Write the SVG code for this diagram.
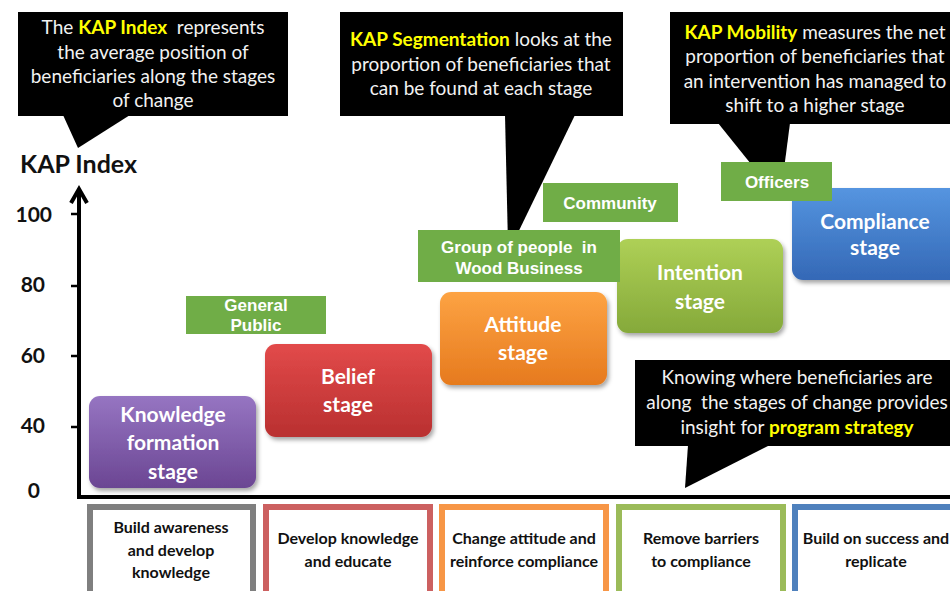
<svg xmlns="http://www.w3.org/2000/svg" width="950" height="591" viewBox="0 0 950 591">
  <defs>
    <linearGradient id="gPurple" x1="0" y1="0" x2="0" y2="1">
      <stop offset="0" stop-color="#9675c2"/>
      <stop offset="1" stop-color="#6b4693"/>
    </linearGradient>
    <linearGradient id="gRed" x1="0" y1="0" x2="0" y2="1">
      <stop offset="0" stop-color="#e24a4a"/>
      <stop offset="1" stop-color="#b93030"/>
    </linearGradient>
    <linearGradient id="gOrange" x1="0" y1="0" x2="0" y2="1">
      <stop offset="0" stop-color="#fda343"/>
      <stop offset="1" stop-color="#e67a1e"/>
    </linearGradient>
    <linearGradient id="gGreen" x1="0" y1="0" x2="0" y2="1">
      <stop offset="0" stop-color="#aed056"/>
      <stop offset="1" stop-color="#85a93a"/>
    </linearGradient>
    <linearGradient id="gBlue" x1="0" y1="0" x2="0" y2="1">
      <stop offset="0" stop-color="#5595e0"/>
      <stop offset="1" stop-color="#3468b6"/>
    </linearGradient>
    <filter id="shadow" x="-10%" y="-10%" width="130%" height="140%">
      <feDropShadow dx="2" dy="3" stdDeviation="2" flood-color="#000" flood-opacity="0.35"/>
    </filter>
  </defs>
  <style>
    .callout { fill: #000; }
    .ctext { font-family: Lato, "Liberation Sans", sans-serif; font-size: 19px; fill: #f2f2f2; text-anchor: middle; white-space: pre; }
    .hl { fill: #ffff00; font-weight: bold; }
    .stage { filter: url(#shadow); }
    .stext { font-family: Lato, "Liberation Sans", sans-serif; font-size: 21px; font-weight: bold; fill: #fff; text-anchor: middle; }
    .tag { fill: #70ad47; }
    .ttext { font-family: "Liberation Sans", Arial, sans-serif; font-size: 17px; font-weight: bold; fill: #fff; text-anchor: middle; white-space: pre; }
    .axis { stroke: #000; stroke-width: 4; fill: none; }
    .tick { stroke: #000; stroke-width: 2.5; }
    .ylab { font-family: Lato, "Liberation Sans", sans-serif; font-size: 21px; font-weight: bold; fill: #111; text-anchor: end; }
    .act { fill: #fff; stroke-width: 6; }
    .atext { font-family: Lato, "Liberation Sans", sans-serif; font-size: 16px; font-weight: bold; fill: #111; text-anchor: middle; }
  </style>

  <rect width="950" height="591" fill="#fff"/>

  <!-- axes -->
  <g id="axes">
    <text x="20" y="173" font-family="Lato, 'Liberation Sans', sans-serif" font-size="25" font-weight="bold" fill="#111">KAP Index</text>
    <line class="axis" x1="79" y1="190" x2="79" y2="499"/>
    <line class="axis" x1="77" y1="497" x2="950" y2="497"/>
    <polyline class="axis" points="71,203 79,189 87,203" stroke-linejoin="miter"/>
    <line class="tick" x1="71" y1="214" x2="79" y2="214"/>
    <line class="tick" x1="71" y1="286" x2="79" y2="286"/>
    <line class="tick" x1="71" y1="356" x2="79" y2="356"/>
    <line class="tick" x1="71" y1="427" x2="79" y2="427"/>
    <text class="ylab" x="52" y="222">100</text>
    <text class="ylab" x="45" y="292">80</text>
    <text class="ylab" x="45" y="363">60</text>
    <text class="ylab" x="45" y="433">40</text>
    <text class="ylab" x="40" y="498">0</text>
  </g>

  <!-- stage boxes -->
  <g id="stage-knowledge">
    <rect class="stage" x="89" y="396" width="167" height="92" rx="11" fill="url(#gPurple)"/>
    <text class="stext" x="173" y="422">Knowledge</text>
    <text class="stext" x="173" y="450">formation</text>
    <text class="stext" x="173" y="479">stage</text>
  </g>
  <g id="stage-belief">
    <rect class="stage" x="265" y="344" width="167" height="93" rx="11" fill="url(#gRed)"/>
    <text class="stext" x="348" y="384">Belief</text>
    <text class="stext" x="348" y="412">stage</text>
  </g>
  <g id="stage-attitude">
    <rect class="stage" x="440" y="292" width="167" height="93" rx="11" fill="url(#gOrange)"/>
    <text class="stext" x="523" y="332">Attitude</text>
    <text class="stext" x="523" y="360">stage</text>
  </g>
  <g id="stage-intention">
    <rect class="stage" x="617" y="239" width="166" height="94" rx="11" fill="url(#gGreen)"/>
    <text class="stext" x="700" y="280">Intention</text>
    <text class="stext" x="700" y="309">stage</text>
  </g>
  <g id="stage-compliance">
    <rect class="stage" x="792" y="188" width="175" height="92" rx="11" fill="url(#gBlue)"/>
    <text class="stext" x="875" y="229">Compliance</text>
    <text class="stext" x="875" y="255">stage</text>
  </g>

  <!-- callouts -->
  <g id="callout-index">
    <rect class="callout" x="18" y="12" width="270" height="104"/>
    <polygon class="callout" points="63,115 130,115 78,148"/>
    <text class="ctext" x="153" y="34">The <tspan class="hl">KAP Index</tspan>  represents</text>
    <text class="ctext" x="153" y="59">the average position of</text>
    <text class="ctext" x="153" y="83">beneficiaries along the stages</text>
    <text class="ctext" x="153" y="107">of change</text>
  </g>
  <g id="callout-segmentation">
    <rect class="callout" x="340" y="12" width="283" height="104"/>
    <polygon class="callout" points="505,115 575,115 512,245 508,245"/>
    <text class="ctext" x="481" y="46"><tspan class="hl">KAP Segmentation</tspan> looks at the</text>
    <text class="ctext" x="481" y="71">proportion of beneficiaries that</text>
    <text class="ctext" x="481" y="95">can be found at each stage</text>
  </g>
  <g id="callout-mobility">
    <rect class="callout" x="670" y="12" width="285" height="112"/>
    <polygon class="callout" points="718,123 790,123 780,200"/>
    <text class="ctext" x="815" y="39"><tspan class="hl">KAP Mobility</tspan> measures the net</text>
    <text class="ctext" x="815" y="63">proportion of beneficiaries that</text>
    <text class="ctext" x="815" y="88">an intervention has managed to</text>
    <text class="ctext" x="815" y="112">shift to a higher stage</text>
  </g>
  <g id="callout-strategy">
    <rect class="callout" x="635" y="360" width="320" height="86"/>
    <polygon class="callout" points="688,445 770,445 685,488"/>
    <text class="ctext" x="797" y="384">Knowing where beneficiaries are</text>
    <text class="ctext" x="797" y="409">along  the stages of change provides</text>
    <text class="ctext" x="797" y="434">insight for <tspan class="hl">program strategy</tspan></text>
  </g>

  <!-- audience tags -->
  <g id="tag-general-public">
    <rect class="tag" x="186" y="296" width="140" height="38"/>
    <text class="ttext" x="256" y="311">General</text>
    <text class="ttext" x="256" y="331">Public</text>
  </g>
  <g id="tag-wood-business">
    <rect class="tag" x="418" y="230" width="202" height="52"/>
    <text class="ttext" x="519" y="253">Group of people  in</text>
    <text class="ttext" x="519" y="274">Wood Business</text>
  </g>
  <g id="tag-community">
    <rect class="tag" x="543" y="183" width="135" height="39"/>
    <text class="ttext" x="610" y="209">Community</text>
  </g>
  <g id="tag-officers">
    <rect class="tag" x="721" y="162" width="111" height="39"/>
    <text class="ttext" x="777" y="188">Officers</text>
  </g>

  <!-- actions row -->
  <g id="action-awareness">
    <rect class="act" x="90" y="507" width="163" height="90" stroke="#7f7f7f"/>
    <text class="atext" x="171" y="533">Build awareness</text>
    <text class="atext" x="171" y="556">and develop</text>
    <text class="atext" x="171" y="578">knowledge</text>
  </g>
  <g id="action-educate">
    <rect class="act" x="266" y="507" width="164" height="90" stroke="#cc6060"/>
    <text class="atext" x="348" y="544">Develop knowledge</text>
    <text class="atext" x="348" y="567">and educate</text>
  </g>
  <g id="action-attitude">
    <rect class="act" x="442" y="507" width="164" height="90" stroke="#f79646"/>
    <text class="atext" x="524" y="544">Change attitude and</text>
    <text class="atext" x="524" y="567">reinforce compliance</text>
  </g>
  <g id="action-barriers">
    <rect class="act" x="619" y="507" width="164" height="90" stroke="#9bbb59"/>
    <text class="atext" x="701" y="544">Remove barriers</text>
    <text class="atext" x="701" y="567">to compliance</text>
  </g>
  <g id="action-replicate">
    <rect class="act" x="795" y="507" width="170" height="90" stroke="#4f81bd"/>
    <text class="atext" x="876" y="544">Build on success and</text>
    <text class="atext" x="876" y="567">replicate</text>
  </g>
</svg>
